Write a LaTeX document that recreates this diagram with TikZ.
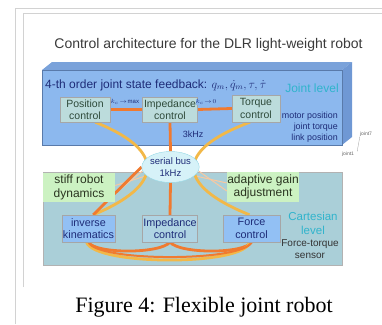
\documentclass[tikz,border=0pt]{standalone}
\usepackage{fontspec}
\setmainfont{Liberation Sans}
\newfontfamily\capfont{Liberation Serif}
\usetikzlibrary{shapes.geometric}
\definecolor{jointface}{HTML}{8CB8EE}
\definecolor{jointtop}{HTML}{7AA2DA}
\definecolor{jointside}{HTML}{6F98D4}
\definecolor{cartfill}{HTML}{AACFD8}
\definecolor{ctrlfill}{HTML}{BCDCDC}
\definecolor{greenfill}{HTML}{CCF2C2}
\definecolor{bluefill}{HTML}{92C0F4}
\definecolor{busfill}{HTML}{D6F2F8}
\definecolor{orangeline}{HTML}{F07A30}
\definecolor{goldline}{HTML}{F2B848}
\definecolor{paleorange}{HTML}{F8C8A0}
\definecolor{navytext}{HTML}{1E2C78}
\definecolor{cyantext}{HTML}{30B4CC}
\definecolor{greentext}{HTML}{2E4A3A}
\definecolor{darktext}{HTML}{2A3420}
\definecolor{framegray}{HTML}{D2D2D2}
\definecolor{titlegray}{HTML}{3A3A3A}
\pgfdeclarelayer{bg}
\pgfdeclarelayer{lines}
\pgfsetlayers{bg,lines,main}
\begin{document}
\begin{tikzpicture}[x=1pt,y=-1pt,
  ctrlbox/.style={draw=black!35, fill=ctrlfill, inner sep=0pt, align=center,
    text=greentext, font=\fontsize{10.5}{12.5}\selectfont},
  bluebox/.style={draw=black!35, fill=bluefill, inner sep=0pt, align=center,
    text=navytext, font=\fontsize{10.8}{12.5}\selectfont},
  greenbox/.style={fill=greenfill, inner sep=0pt, align=center,
    text=darktext, font=\fontsize{12}{13.5}\selectfont},
  oline/.style={draw=orangeline, line width=2.8pt},
  gline/.style={draw=goldline, line width=2.8pt},
  pline/.style={draw=paleorange, line width=1pt},
  small/.style={font=\fontsize{6}{7}\selectfont, text=navytext, inner sep=0pt}]
\useasboundingbox (0,0) rectangle (382,324);
% page frames
\draw[framegray, line width=1pt] (15,324) -- (15,8) -- (382,8);
\draw[framegray, line width=1pt] (23,287) -- (23,13) -- (382,13);
% title
\node[text=titlegray, font=\fontsize{14}{16}\selectfont] (title) at (208.5,45) {Control architecture for the DLR light-weight robot};
% big boxes
\begin{pgfonlayer}{bg}
  \fill[jointtop] (42,70) -- (52,62) -- (352,62) -- (342,70) -- cycle;
  \fill[jointside] (342,70) -- (352,62) -- (352,137) -- (342,145) -- cycle;
  \node[fill=jointface, draw=jointside!80!black, line width=0.4pt, minimum width=300, minimum height=75, inner sep=0pt] (jointbox) at (192,107.5) {};
  \node[fill=cartfill, draw=black!30, line width=0.4pt, minimum width=299, minimum height=93, inner sep=0pt] (cartbox) at (192.5,218.5) {};
\end{pgfonlayer}
% control boxes
\node[ctrlbox, minimum width=50, minimum height=25] (pos) at (85,109.5) {Position\\control};
\node[ctrlbox, minimum width=55, minimum height=25] (imp1) at (170,109.5) {Impedance\\control};
\node[ctrlbox, minimum width=48, minimum height=27] (tor) at (256,108.5) {Torque\\control};
\node[ellipse, fill=busfill, draw=cyantext!50, inner sep=0pt, minimum width=46, minimum height=31, align=center,
  text=navytext, font=\fontsize{9.5}{12}\selectfont] (bus) at (170.5,167) {serial bus\\1kHz};
\node[greenbox, minimum width=72, minimum height=29] (srd) at (79,187.5) {stiff robot\\dynamics};
\node[greenbox, minimum width=72, minimum height=30] (aga) at (263,187) {adaptive gain\\adjustment};
\node[bluebox, minimum width=53, minimum height=27] (ik) at (88.5,228.5) {inverse\\kinematics};
\node[bluebox, fill=ctrlfill!70!bluefill, minimum width=55, minimum height=27] (imp2) at (170,228.5) {Impedance\\control};
\node[bluebox, minimum width=57, minimum height=27] (fc) at (251.5,228.5) {Force\\control};
% connectors
\begin{pgfonlayer}{lines}
  \draw[oline] (pos.east) -- (imp1.west);
  \draw[oline] (imp1.east) -- (tor.west);
  \draw[oline] (imp1.south) -- (bus.north);
  \draw[oline] (bus.south) -- (imp2.north);
  \draw[pline] (bus.188) -- ([yshift=-6pt]srd.east);
  \draw[pline] (bus.200) -- ([yshift=2pt]srd.east);
  \draw[pline] (bus.-8) -- ([yshift=-4pt]aga.west);
  \draw[pline] (bus.-20) -- ([yshift=4pt]aga.west);
  \draw[gline] ([xshift=-15pt]pos.south east) .. controls (165,150) and (165,185) .. ([xshift=-22pt]ik.north east);
  \draw[oline] (bus.west) -- ([xshift=-22pt]ik.north east);
  \draw[gline] ([xshift=-6pt]tor.south) .. controls (175,150) and (175,185) .. ([xshift=-2pt]fc.north);
  \draw[oline] (ik.south) .. controls (95,254) and (160,254) .. (imp2.south);
  \draw[oline] (imp2.south) .. controls (180,254) and (244,254) .. (fc.south);
  \draw[gline] ([xshift=-2pt]ik.south) .. controls (95,266) and (245,266) .. ([xshift=-2pt]fc.south);
  \draw[oline, line width=2pt] (ik.south) .. controls (97,262) and (243,262) .. (fc.south);
\end{pgfonlayer}
% labels
\node[small, fill=jointface] (kmax) at (125,102) {$k_c\!\to\!\max$};
\node[small, fill=jointface] (kzero) at (206,102) {$k_c\!\to\!0$};
\node[anchor=west, text=navytext, font=\fontsize{12}{14}\selectfont, inner sep=0pt] (fb) at (45,85) {4-th order joint state feedback: $q_m,\dot q_m,\tau,\dot\tau$};
\node[text=cyantext, font=\fontsize{12}{14}\selectfont, inner sep=0pt] (jl) at (312,88) {Joint level};
\node[anchor=east, align=right, text=navytext, font=\fontsize{8.9}{11}\selectfont, inner sep=0pt] (sens) at (338,127) {motor position\\joint torque\\link position};
\node[text=navytext, font=\fontsize{9}{11}\selectfont, inner sep=0pt] (khz) at (193,134) {3kHz};
\node[text=cyantext, align=center, font=\fontsize{11.5}{13.5}\selectfont, inner sep=0pt] (cl) at (313,223.5) {Cartesian\\level};
\node[text=black!80, align=center, font=\fontsize{10}{12}\selectfont, inner sep=0pt] (fts) at (310,249) {Force-torque\\sensor};
\node[text=black!60, font=\fontsize{5}{6}\selectfont, inner sep=0pt] (j7) at (366,134) {joint7};
\node[text=black!60, font=\fontsize{5}{6}\selectfont, inner sep=0pt] (j1) at (348,154) {joint1};
\draw[black!40, line width=0.3pt] (j7.south west) -- ([xshift=3pt]j1.north east);
% caption
\node[anchor=base, font=\capfont\fontsize{22}{26}\selectfont, inner sep=0pt] (cap) at (204,312) {Figure 4: Flexible joint robot};
\end{tikzpicture}
\end{document}
